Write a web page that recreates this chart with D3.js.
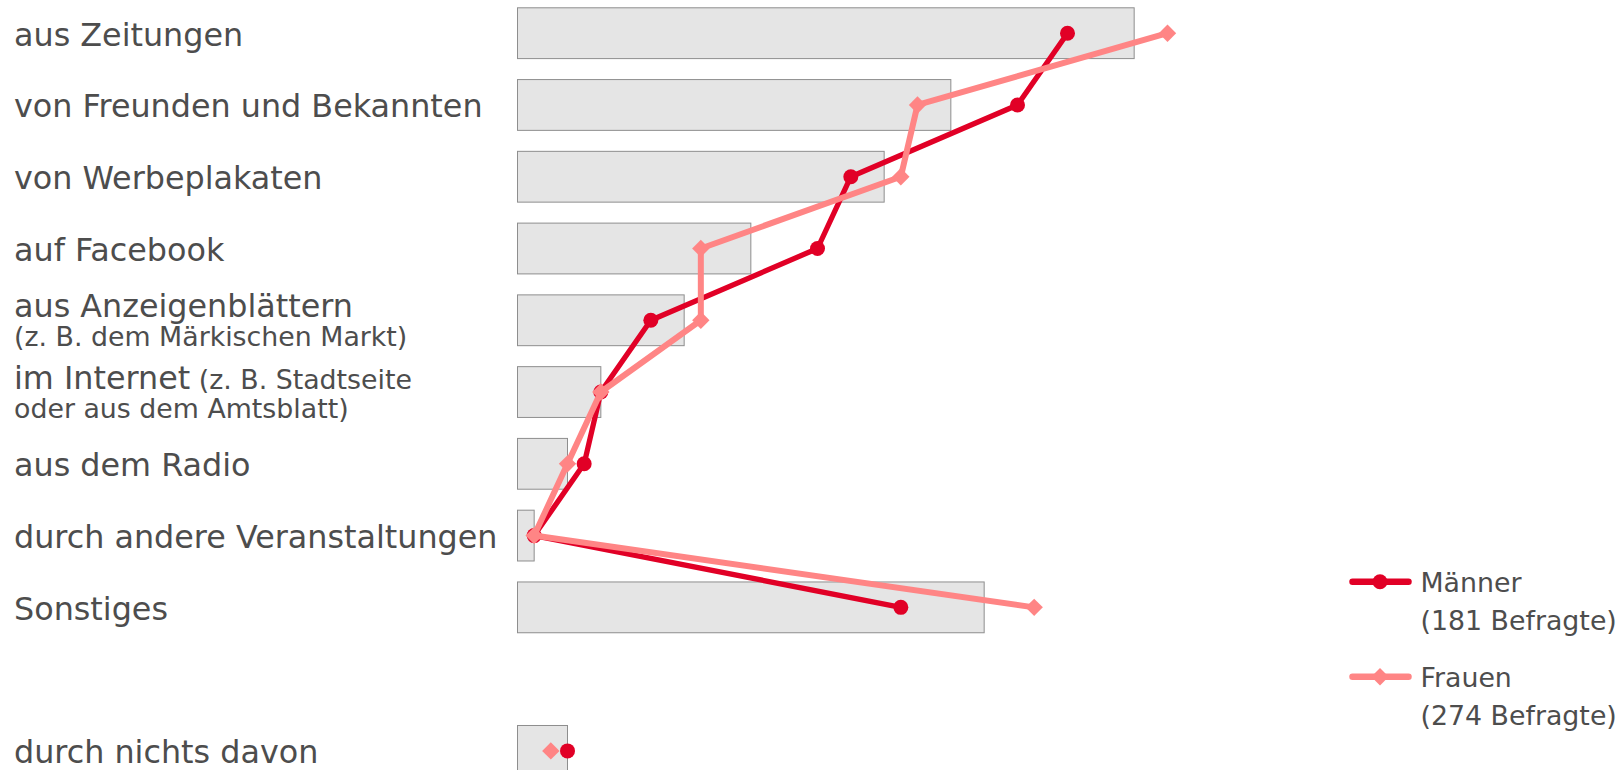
<!DOCTYPE html>
<html>
<head>
<meta charset="utf-8">
<script src="https://cdn.jsdelivr.net/npm/d3@7"></script>
<style>
  html, body { margin: 0; padding: 0; background: #fff; }
  svg { display: block; font-family: "DejaVu Sans", Verdana, sans-serif; }
</style>
</head>
<body>
<svg id="chart" width="1621" height="770"></svg>
<script>
// ---- data ----
const categories = [
  "aus Zeitungen", "von Freunden und Bekannten", "von Werbeplakaten", "auf Facebook",
  "aus Anzeigenblättern", "im Internet", "aus dem Radio", "durch andere Veranstaltungen",
  "Sonstiges", "durch nichts davon"
];
const inlineNotes = ["", "", "", "", "", " (z. B. Stadtseite", "", "", "", ""];
const secondLines = ["", "", "", "", "(z. B. dem Märkischen Markt)", "oder aus dem Amtsblatt)", "", "", "", ""];
const totalValues = [37, 26, 22, 14, 10, 5, 3, 1, 28, 3];
const menValues   = [33, 30, 20, 18, 8, 5, 4, 1, 23, 3];
const womenValues = [39, 24, 23, 11, 11, 5, 3, 1, 31, 2];
const connectedCount = 9; // last category is shown apart, not joined by the lines
const seriesNames = ["Männer", "Frauen"];
const seriesNotes = ["(181 Befragte)", "(274 Befragte)"];

// ---- styles ----
const textColor = "#4d4d4d";
const menColor = "#e10026";
const womenColor = "#ff8585";
const bigFont = 31.8, smallFont = 26.8;

const svg = d3.select("#chart");

const gapKey = "__gap__";
const bandDomain = [...categories.slice(0, connectedCount), gapKey, ...categories.slice(connectedCount)];

const step = 71.77;
const y = d3.scaleBand()
  .domain(bandDomain)
  .range([-2.69, -2.69 + bandDomain.length * step])
  .paddingInner(0.2922)
  .paddingOuter(0.1461);

const x = d3.scaleLinear().domain([0, 60]).range([517.5, 1517.5]);
const cy = c => y(c) + y.bandwidth() / 2;

// bars
svg.append("g").selectAll("rect")
  .data(categories)
  .join("rect")
  .attr("x", x(0))
  .attr("y", c => y(c))
  .attr("width", (c, i) => x(totalValues[i]) - x(0))
  .attr("height", y.bandwidth())
  .attr("fill", "#e5e5e5")
  .attr("stroke", "#8e8e8e")
  .attr("stroke-width", 1);

// labels
const labels = svg.append("g").attr("fill", textColor);
categories.forEach((c, i) => {
  const twoLine = secondLines[i] !== "";
  const t = labels.append("text")
    .attr("x", 14)
    .attr("y", cy(c) + (twoLine ? -3.5 : 12.5))
    .attr("font-size", bigFont)
    .text(c);
  if (inlineNotes[i]) {
    t.append("tspan").attr("font-size", smallFont).text(inlineNotes[i]);
  }
  if (twoLine) {
    labels.append("text")
      .attr("x", 14)
      .attr("y", cy(c) + 26)
      .attr("font-size", smallFont)
      .text(secondLines[i]);
  }
});

// series
const diamond = d3.symbol().type(d3.symbolSquare).size(151);
function drawSeries(values, color, width, marker) {
  const g = svg.append("g");
  const pts = categories.map((c, i) => [x(values[i]), cy(c)]);
  g.append("path")
    .attr("d", d3.line()(pts.slice(0, connectedCount)))
    .attr("fill", "none")
    .attr("stroke", color)
    .attr("stroke-width", width)
    .attr("stroke-linejoin", "round");
  pts.forEach(p => {
    if (marker === "circle") {
      g.append("circle").attr("cx", p[0]).attr("cy", p[1]).attr("r", 7.5).attr("fill", color);
    } else {
      g.append("path").attr("d", diamond())
        .attr("transform", `translate(${p[0]},${p[1]}) rotate(45)`)
        .attr("fill", color);
    }
  });
}
drawSeries(menValues, menColor, 5.3, "circle");
drawSeries(womenValues, womenColor, 6, "diamond");

// legend
const legendY = [581.7, 676.7];
const legend = svg.append("g");
[[menColor, "circle"], [womenColor, "diamond"]].forEach(([color, marker], i) => {
  const ly = legendY[i];
  legend.append("line")
    .attr("x1", 1352.5).attr("x2", 1408.5)
    .attr("y1", ly).attr("y2", ly)
    .attr("stroke", color).attr("stroke-width", 6.5).attr("stroke-linecap", "round");
  if (marker === "circle") {
    legend.append("circle").attr("cx", 1380).attr("cy", ly).attr("r", 7.5).attr("fill", color);
  } else {
    legend.append("path").attr("d", diamond())
      .attr("transform", `translate(1380,${ly}) rotate(45)`).attr("fill", color);
  }
  legend.append("text").attr("x", 1420.5).attr("y", ly + 10)
    .attr("font-size", smallFont).attr("fill", textColor).text(seriesNames[i]);
  legend.append("text").attr("x", 1420.5).attr("y", ly + 47.8)
    .attr("font-size", smallFont).attr("fill", textColor).text(seriesNotes[i]);
});
</script>
</body>
</html>
